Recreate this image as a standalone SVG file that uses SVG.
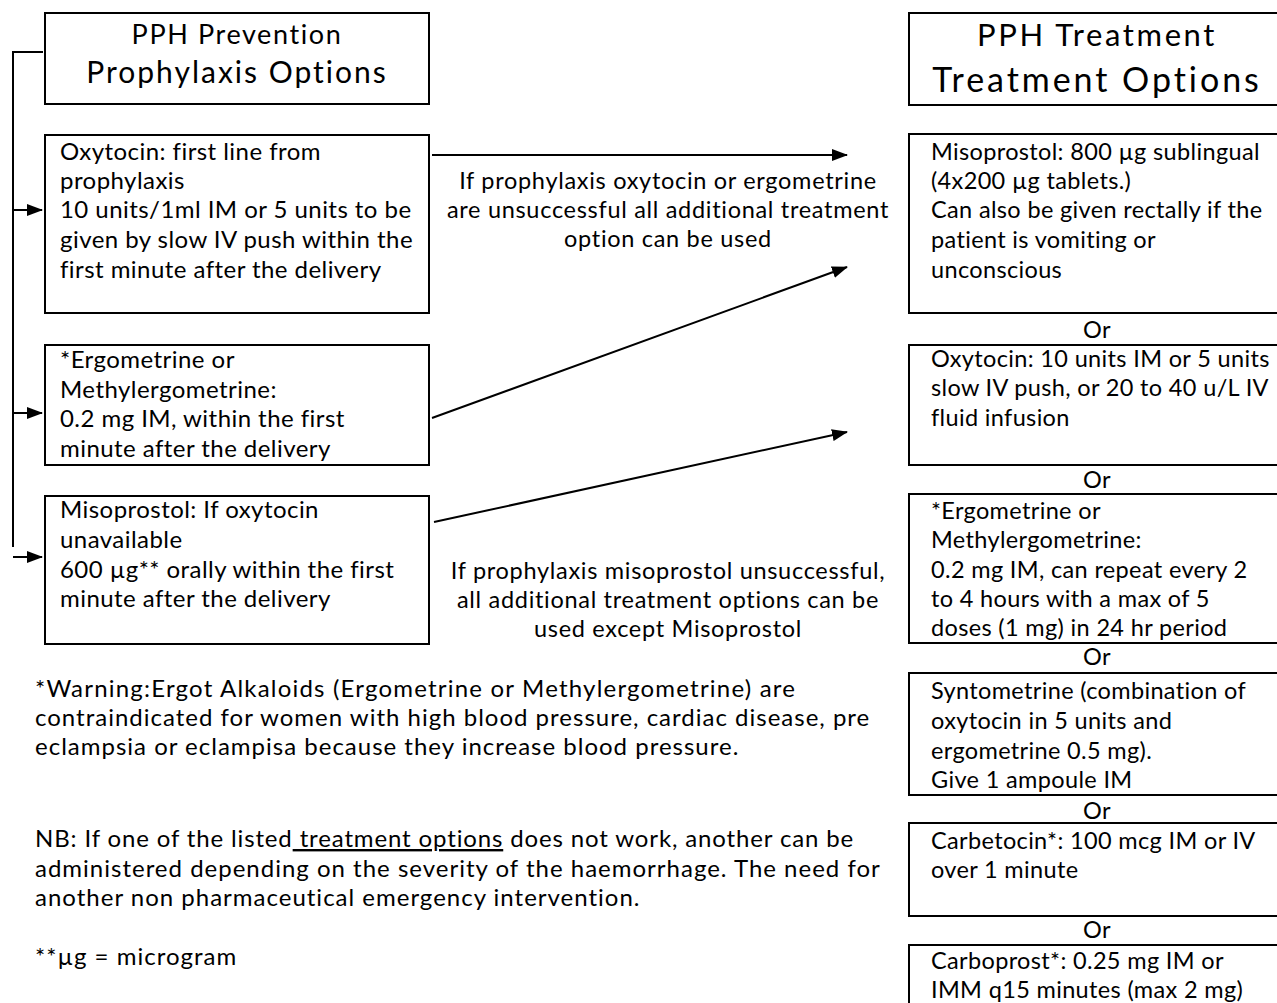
<svg xmlns="http://www.w3.org/2000/svg" width="1277" height="1003" viewBox="0 0 1277 1003">
<style>
.box{fill:#fff;stroke:#000;stroke-width:2}
.t{font-family:Lato,"Open Sans","Liberation Sans",sans-serif;font-size:24px;letter-spacing:0.45px;fill:#000}
.r{font-size:23.5px;letter-spacing:0.35px}
.m{font-size:23.5px;letter-spacing:0.7px}
.n{font-size:24px;letter-spacing:1px}
.c{text-anchor:middle}
.ln{stroke:#000;stroke-width:2;fill:none}
</style>
<defs>
<marker id="ah" markerWidth="16" markerHeight="12" refX="15" refY="6" orient="auto" markerUnits="userSpaceOnUse">
<path d="M0,0 L16,6 L0,12 Z" fill="#000"/>
</marker>
</defs>
<rect width="1277" height="1003" fill="#fff"/>
<g id="connectors">
<path class="ln" d="M43,52 H13 V547"/>
<line class="ln" x1="13" y1="210" x2="42" y2="210" marker-end="url(#ah)"/>
<line class="ln" x1="13" y1="413" x2="42" y2="413" marker-end="url(#ah)"/>
<line class="ln" x1="13" y1="557" x2="42" y2="557" marker-end="url(#ah)"/>
<line class="ln" x1="432" y1="155" x2="847" y2="155" marker-end="url(#ah)"/>
<line class="ln" x1="432" y1="418" x2="847" y2="267" marker-end="url(#ah)"/>
<line class="ln" x1="434" y1="522" x2="847" y2="432" marker-end="url(#ah)"/>
</g>
<g id="prev-header">
<rect class="box" x="45" y="13" width="384" height="91"/>
<text class="t c" x="237" y="44" style="font-size:27px;letter-spacing:1.6px">PPH Prevention</text>
<text class="t c" x="237" y="83" style="font-size:30px;letter-spacing:2px">Prophylaxis Options</text>
</g>
<g id="prev-oxytocin">
<rect class="box" x="45" y="135" width="384" height="178"/>
<text class="t" x="60" y="160">Oxytocin: first line from</text>
<text class="t" x="60" y="189">prophylaxis</text>
<text class="t" x="60" y="218">10 units/1ml IM or 5 units to be</text>
<text class="t" x="60" y="248">given by slow IV push within the</text>
<text class="t" x="60" y="278">first minute after the delivery</text>
</g>
<g id="prev-ergometrine">
<rect class="box" x="45" y="345" width="384" height="120"/>
<text class="t" x="60" y="368">*Ergometrine or</text>
<text class="t" x="60" y="398">Methylergometrine:</text>
<text class="t" x="60" y="427">0.2 mg IM, within the first</text>
<text class="t" x="60" y="457">minute after the delivery</text>
</g>
<g id="prev-misoprostol">
<rect class="box" x="45" y="496" width="384" height="148"/>
<text class="t" x="60" y="518">Misoprostol: If oxytocin</text>
<text class="t" x="60" y="548">unavailable</text>
<text class="t" x="60" y="578">600 µg** orally within the first</text>
<text class="t" x="60" y="607">minute after the delivery</text>
</g>
<g id="label-1">
<text class="t m c" x="668" y="189">If prophylaxis oxytocin or ergometrine</text>
<text class="t m c" x="668" y="218">are unsuccessful all additional treatment</text>
<text class="t m c" x="668" y="247">option can be used</text>
</g>
<g id="label-2">
<text class="t m c" x="668" y="579">If prophylaxis misoprostol unsuccessful,</text>
<text class="t m c" x="668" y="608">all additional treatment options can be</text>
<text class="t m c" x="668" y="637">used except Misoprostol</text>
</g>
<g id="treat-header">
<rect class="box" x="909" y="13" width="400" height="92"/>
<text class="t c" x="1097" y="46" style="font-size:31px;letter-spacing:2.6px">PPH Treatment</text>
<text class="t c" x="1097" y="92" style="font-size:34px;letter-spacing:2.95px">Treatment Options</text>
</g>
<g id="treat-misoprostol">
<rect class="box" x="909" y="134" width="400" height="179"/>
<text class="t r" x="931" y="160">Misoprostol: 800 µg sublingual</text>
<text class="t r" x="931" y="189">(4x200 µg tablets.)</text>
<text class="t r" x="931" y="218">Can also be given rectally if the</text>
<text class="t r" x="931" y="248">patient is vomiting or</text>
<text class="t r" x="931" y="278">unconscious</text>
</g>
<text class="t r c" x="1097" y="338">Or</text>
<g id="treat-oxytocin">
<rect class="box" x="909" y="345" width="400" height="120"/>
<text class="t r" x="931" y="367">Oxytocin: 10 units IM or 5 units</text>
<text class="t r" x="931" y="396">slow IV push, or 20 to 40 u/L IV</text>
<text class="t r" x="931" y="426">fluid infusion</text>
</g>
<text class="t r c" x="1097" y="488">Or</text>
<g id="treat-ergometrine">
<rect class="box" x="909" y="494" width="400" height="149"/>
<text class="t r" x="931" y="519">*Ergometrine or</text>
<text class="t r" x="931" y="548">Methylergometrine:</text>
<text class="t r" x="931" y="578">0.2 mg IM, can repeat every 2</text>
<text class="t r" x="931" y="607">to 4 hours with a max of 5</text>
<text class="t r" x="931" y="636">doses (1 mg) in 24 hr period</text>
</g>
<text class="t r c" x="1097" y="665">Or</text>
<g id="treat-syntometrine">
<rect class="box" x="909" y="673" width="400" height="122"/>
<text class="t r" x="931" y="699">Syntometrine (combination of</text>
<text class="t r" x="931" y="729">oxytocin in 5 units and</text>
<text class="t r" x="931" y="759">ergometrine 0.5 mg).</text>
<text class="t r" x="931" y="788">Give 1 ampoule IM</text>
</g>
<text class="t r c" x="1097" y="819">Or</text>
<g id="treat-carbetocin">
<rect class="box" x="909" y="823" width="400" height="93"/>
<text class="t r" x="931" y="849">Carbetocin*: 100 mcg IM or IV</text>
<text class="t r" x="931" y="878">over 1 minute</text>
</g>
<text class="t r c" x="1097" y="938">Or</text>
<g id="treat-carboprost">
<rect class="box" x="909" y="945" width="400" height="100"/>
<text class="t r" x="931" y="969">Carboprost*: 0.25 mg IM or</text>
<text class="t r" x="931" y="998">IMM q15 minutes (max 2 mg)</text>
</g>
<g id="notes">
<text class="t n" x="35" y="697" style="letter-spacing:1.2px">*Warning:Ergot Alkaloids (Ergometrine or Methylergometrine) are</text>
<text class="t n" x="35" y="726">contraindicated for women with high blood pressure, cardiac disease, pre</text>
<text class="t n" x="35" y="755">eclampsia or eclampisa because they increase blood pressure.</text>
<text class="t n" x="35" y="847" style="letter-spacing:0.86px">NB: If one of the listed<tspan text-decoration="underline"> treatment options</tspan> does not work, another can be</text>
<text class="t n" x="35" y="877">administered depending on the severity of the haemorrhage. The need for</text>
<text class="t n" x="35" y="906">another non pharmaceutical emergency intervention.</text>
<text class="t n" x="35" y="965">**µg = microgram</text>
</g>
</svg>
